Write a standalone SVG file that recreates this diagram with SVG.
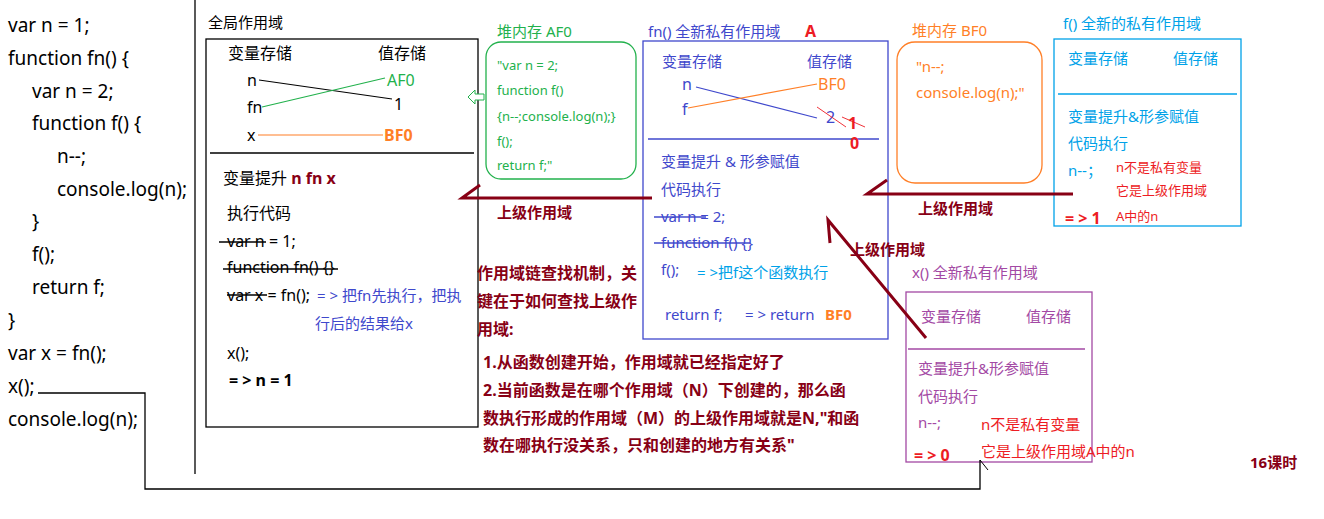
<svg xmlns="http://www.w3.org/2000/svg" width="1324" height="519" viewBox="0 0 1324 519">
<style>
text{font-family:"Noto Sans","Noto Sans CJK SC",sans-serif;}
.code{font-size:19px;fill:#000;}
.t16{font-size:16px;}
.t15{font-size:15px;}
.t13{font-size:13px;}
.b{font-weight:bold;}
.blk{fill:#000;}
.grn{fill:#22b14c;}
.org{fill:#ff7f27;}
.blu{fill:#3f48cc;}
.lbl{fill:#00a2e8;}
.pur{fill:#a349a4;}
.dr{fill:#880015;}
.red{fill:#ed1c24;}
.box{fill:none;stroke-width:1.3;}
.strike{stroke-width:1.3;}
.arr{stroke:#880015;stroke-width:3;fill:none;}
</style>
<rect width="1324" height="519" fill="#fff"/>

<g id="code">
<text class="code" x="8" y="32">var n = 1;</text>
<text class="code" x="8" y="65">function fn() {</text>
<text class="code" x="32" y="98">var n = 2;</text>
<text class="code" x="32" y="130">function f() {</text>
<text class="code" x="57" y="163">n--;</text>
<text class="code" x="57" y="196">console.log(n);</text>
<text class="code" x="32" y="228">}</text>
<text class="code" x="32" y="261">f();</text>
<text class="code" x="32" y="294">return f;</text>
<text class="code" x="8" y="327">}</text>
<text class="code" x="8" y="360">var x = fn();</text>
<text class="code" x="8" y="393">x();</text>
<text class="code" x="8" y="426">console.log(n);</text>
<line x1="195" y1="0" x2="195" y2="474" stroke="#000" stroke-width="1.3"/>
</g>

<g id="global-scope">
<text class="t15 blk" x="208" y="28">全局作用域</text>
<rect class="box" x="206" y="39" width="272" height="388" stroke="#000"/>
<line x1="210" y1="153" x2="474" y2="153" stroke="#000" stroke-width="1.3"/>
<text class="t16 blk" x="228" y="59">变量存储</text>
<text class="t16 blk" x="378" y="59">值存储</text>
<text class="t16 blk" x="247" y="86">n</text>
<text class="t16 blk" x="247" y="113">fn</text>
<text class="t16 blk" x="247" y="141">x</text>
<text class="t16 grn" x="387" y="86">AF0</text>
<text class="t16 blk" x="394" y="110">1</text>
<text class="t16 org b" x="384" y="141">BF0</text>
<line x1="259" y1="80" x2="392" y2="99" stroke="#000" stroke-width="1.2"/>
<line x1="262" y1="107" x2="385" y2="78" stroke="#22b14c" stroke-width="1.2"/>
<line x1="258" y1="135" x2="383" y2="135" stroke="#ff7f27" stroke-width="1.2"/>
<text class="t16 blk" x="223" y="184">变量提升 <tspan class="dr b">n fn x</tspan></text>
<text class="t16 blk" x="227" y="219">执行代码</text>
<text class="t16 blk" x="227" y="247">var n = 1;</text>
<line class="strike" x1="219" y1="242" x2="266" y2="242" stroke="#000"/>
<text class="t16 blk" x="227" y="273">function fn() {}</text>
<line class="strike" x1="223" y1="269" x2="338" y2="269" stroke="#000"/>
<text class="t16 blk" x="227" y="301">var x = fn();</text>
<line class="strike" x1="227" y1="295" x2="267" y2="295" stroke="#000"/>
<text class="t15 blu" x="317" y="301">= &gt; 把fn先执行，把执</text>
<text class="t15 blu" x="315" y="329">行后的结果给x</text>
<text class="t16 blk" x="227" y="359">x();</text>
<text class="t16 blk b" x="229" y="386">= &gt; n = 1</text>
</g>

<g id="heap-af0">
<text class="t15 grn" x="497" y="37">堆内存 AF0</text>
<rect class="box" x="486" y="42" width="150" height="137" rx="15" stroke="#22b14c"/>
<text class="t13 grn" x="497" y="70">"var n = 2;</text>
<text class="t13 grn" x="497" y="95">function f()</text>
<text class="t13 grn" x="497" y="121">{n--;console.log(n);}</text>
<text class="t13 grn" x="497" y="146">f();</text>
<text class="t13 grn" x="497" y="170">return f;"</text>
</g>

<g id="fn-scope">
<text class="t15 blu" x="648" y="37">fn() 全新私有作用域</text>
<text class="t16 red b" x="805" y="37">A</text>
<rect class="box" x="643" y="41" width="245" height="298" stroke="#3f48cc"/>
<line x1="648" y1="139" x2="879" y2="139" stroke="#3f48cc" stroke-width="1.3"/>
<text class="t15 blu" x="662" y="67">变量存储</text>
<text class="t15 blu" x="807" y="67">值存储</text>
<text class="t16 blu" x="682" y="90">n</text>
<text class="t16 blu" x="682" y="115">f</text>
<text class="t16 org" x="818" y="90">BF0</text>
<text class="t16 blu" x="826" y="123">2</text>
<text class="t16 red b" x="848" y="129">1</text>
<text class="t16 red b" x="850" y="149">0</text>
<line x1="696" y1="87" x2="817" y2="118" stroke="#3f48cc" stroke-width="1.2"/>
<line x1="688" y1="108" x2="817" y2="84" stroke="#ff7f27" stroke-width="1.2"/>
<line x1="817" y1="107" x2="846" y2="127" stroke="#ed1c24" stroke-width="0.9"/>
<line x1="842" y1="117" x2="865" y2="127" stroke="#ed1c24" stroke-width="0.9"/>
<text class="t15 blu" x="661" y="167">变量提升 &amp; 形参赋值</text>
<text class="t15 blu" x="661" y="195">代码执行</text>
<text class="t15 blu" x="661" y="222">var n = 2;</text>
<line class="strike" x1="654" y1="217" x2="706" y2="217" stroke="#3f48cc"/>
<text class="t15 blu" x="661" y="248">function f() {}</text>
<line class="strike" x1="654" y1="243" x2="750" y2="243" stroke="#3f48cc"/>
<text class="t15 blu" x="661" y="275">f();</text>
<text class="t15 lbl" x="697" y="278">= &gt;把f这个函数执行</text>
<text class="t15 blu" x="665" y="320">return f;</text>
<text class="t15 blu" x="745" y="320">= &gt; return</text>
<text class="t15 org b" x="825" y="320">BF0</text>
</g>

<g id="heap-bf0">
<text class="t15 org" x="912" y="36">堆内存 BF0</text>
<rect class="box" x="897" y="42" width="145" height="141" rx="18" stroke="#ff7f27"/>
<text class="t15 org" x="916" y="72">"n--;</text>
<text class="t15 org" x="916" y="98">console.log(n);"</text>
</g>

<g id="f-scope">
<text class="t15 lbl" x="1063" y="29">f() 全新的私有作用域</text>
<rect class="box" x="1054" y="39" width="187" height="187" stroke="#00a2e8"/>
<line x1="1058" y1="94" x2="1237" y2="94" stroke="#00a2e8" stroke-width="1.3"/>
<text class="t15 lbl" x="1068" y="64">变量存储</text>
<text class="t15 lbl" x="1173" y="64">值存储</text>
<text class="t15 lbl" x="1068" y="122">变量提升&amp;形参赋值</text>
<text class="t15 lbl" x="1068" y="149">代码执行</text>
<text class="t15 lbl" x="1068" y="176">n--；</text>
<text class="t13 red" x="1116" y="172">n不是私有变量</text>
<text class="t13 red" x="1116" y="195">它是上级作用域</text>
<text class="t13 red" x="1116" y="221">A中的n</text>
<text class="t16 red b" x="1065" y="224">= &gt; 1</text>
</g>

<g id="x-scope">
<text class="t15 pur" x="912" y="278">x() 全新私有作用域</text>
<rect class="box" x="906" y="292" width="186" height="170" stroke="#a349a4"/>
<line x1="908" y1="349" x2="1085" y2="349" stroke="#a349a4" stroke-width="1.3"/>
<text class="t15 pur" x="921" y="322">变量存储</text>
<text class="t15 pur" x="1026" y="322">值存储</text>
<text class="t15 pur" x="918" y="374">变量提升&amp;形参赋值</text>
<text class="t15 pur" x="918" y="402">代码执行</text>
<text class="t15 pur" x="918" y="428">n--;</text>
<text class="t15 red" x="981" y="430">n不是私有变量</text>
<text class="t15 red" x="981" y="457">它是上级作用域A中的n</text>
<text class="t16 red b" x="914" y="461">= &gt; 0</text>
</g>

<g id="notes">
<text class="t16 dr b" x="477" y="279">作用域链查找机制，关</text>
<text class="t16 dr b" x="477" y="307">键在于如何查找上级作</text>
<text class="t16 dr b" x="477" y="335">用域:</text>
<text class="t16 dr b" x="483" y="368">1.从函数创建开始，作用域就已经指定好了</text>
<text class="t16 dr b" x="483" y="396">2.当前函数是在哪个作用域（N）下创建的，那么函</text>
<text class="t16 dr b" x="483" y="424">数执行形成的作用域（M）的上级作用域就是N,"和函</text>
<text class="t16 dr b" x="483" y="451">数在哪执行没关系，只和创建的地方有关系"</text>
<text class="t15 dr b" x="1250" y="468">16课时</text>
</g>

<g id="connectors">
<polygon points="468,97 475,90 475,94 484,94 484,100 475,100 475,104" fill="#fff" stroke="#22b14c" stroke-width="1"/>
<path class="arr" d="M652,198 L462,198 L480,185"/>
<text class="t15 dr b" x="497" y="218">上级作用域</text>
<path class="arr" d="M1073,194 L867,194 L887,180"/>
<text class="t15 dr b" x="918" y="214">上级作用域</text>
<path class="arr" d="M926,338 L828,220 L830,243"/>
<text class="t15 dr b" x="850" y="255">上级作用域</text>
<polyline points="38,393 145,393 145,489 980,489 980,460" fill="none" stroke="#000" stroke-width="1.3"/>
<line x1="980" y1="460" x2="988" y2="470" stroke="#000" stroke-width="1"/>
</g>
</svg>
